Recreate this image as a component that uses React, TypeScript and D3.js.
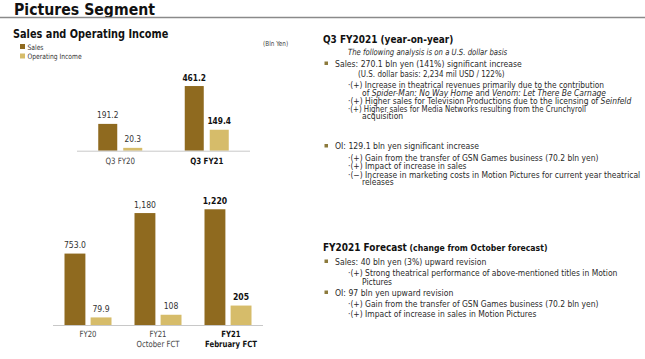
import React, { useLayoutEffect, useRef, useState } from "react";
import * as d3 from "d3";

// ---- Data ----
const quarterCats = ["Q3 FY20", "Q3 FY21"];
const quarterSales = [191.2, 461.2];
const quarterOI = [20.3, 149.4];
const quarterSalesLabels = ["191.2", "461.2"];
const quarterOILabels = ["20.3", "149.4"];

const yearCats = ["FY20", "FY21 October FCT", "FY21 February FCT"];
const yearCatLines = [["FY20"], ["FY21", "October FCT"], ["FY21", "February FCT"]];
const yearSales = [753.0, 1180, 1220];
const yearOI = [79.9, 108, 205];
const yearSalesLabels = ["753.0", "1,180", "1,220"];
const yearOILabels = ["79.9", "108", "205"];

const seriesNames = ["Sales", "Operating Income"];

const SALES_COLOR = "#8f6a1f";
const OI_COLOR = "#d6bc6a";
const FONT = "'DejaVu Sans', Verdana, sans-serif";

type Seg = { t: string; i?: boolean; fs?: number };
type Line = { x: number; y: number; fs: number; segs: Seg[]; bold?: boolean; bullet?: boolean; fill?: string; sub?: boolean; w?: number };

const rightLines: Line[] = [
  { x: 323, y: 43, fs: 11, bold: true, fill: "#111", segs: [{ t: "Q3 FY2021 (year-on-year)" }] },
  { x: 348, y: 54.5, fs: 8.5, segs: [{ t: "The following analysis is on a U.S. dollar basis", i: true }] },
  { x: 335, y: 66.5, fs: 9.5, bullet: true, segs: [{ t: "Sales: 270.1 bln yen (141%) significant increase" }] },
  { x: 358, y: 76.5, fs: 8.8, segs: [{ t: "(U.S. dollar basis: 2,234 mil USD / 122%)" }] },
  { x: 348, y: 88, fs: 8.5, sub: true, w: 256, segs: [{ t: "·(+) Increase in theatrical revenues primarily due to the contribution" }] },
  { x: 362, y: 95.5, fs: 8.5, sub: true, w: 244, segs: [{ t: "of " }, { t: "Spider-Man: No Way Home", i: true }, { t: " and " }, { t: "Venom: Let There Be Carnage", i: true }] },
  { x: 348, y: 103.5, fs: 8.5, sub: true, segs: [{ t: "·(+) Higher sales for Television Productions due to the licensing of " }, { t: "Seinfeld", i: true }] },
  { x: 348, y: 111.5, fs: 8.5, sub: true, w: 238, segs: [{ t: "·(+) Higher sales for Media Networks resulting from the Crunchyroll" }] },
  { x: 362, y: 119, fs: 8.5, sub: true, segs: [{ t: "acquisition" }] },
  { x: 335, y: 149, fs: 9.5, bullet: true, segs: [{ t: "OI: 129.1 bln yen significant increase" }] },
  { x: 348, y: 160.5, fs: 8.5, sub: true, segs: [{ t: "·(+) Gain from the transfer of GSN Games business (70.2 bln yen)" }] },
  { x: 348, y: 169, fs: 8.5, sub: true, segs: [{ t: "·(+) Impact of increase in sales" }] },
  { x: 348, y: 177.5, fs: 8.5, sub: true, segs: [{ t: "·(−) Increase in marketing costs in Motion Pictures for current year theatrical" }] },
  { x: 362, y: 185, fs: 8.5, sub: true, segs: [{ t: "releases" }] },
  { x: 323, y: 251, fs: 11, bold: true, fill: "#111", segs: [{ t: "FY2021 Forecast" }, { t: " (change from October forecast)", fs: 9.5 }] },
  { x: 335, y: 264.5, fs: 9.5, bullet: true, segs: [{ t: "Sales: 40 bln yen (3%) upward revision" }] },
  { x: 348, y: 275.5, fs: 8.5, sub: true, segs: [{ t: "·(+) Strong theatrical performance of above-mentioned titles in Motion" }] },
  { x: 362, y: 285, fs: 8.5, sub: true, segs: [{ t: "Pictures" }] },
  { x: 335, y: 295.5, fs: 9.5, bullet: true, segs: [{ t: "OI: 97 bln yen upward revision" }] },
  { x: 348, y: 307, fs: 8.5, sub: true, segs: [{ t: "·(+) Gain from the transfer of GSN Games business (70.2 bln yen)" }] },
  { x: 348, y: 316.5, fs: 8.5, sub: true, segs: [{ t: "·(+) Impact of increase in sales in Motion Pictures" }] },
];

function T(props: { x: number; y: number; sx: number; children: React.ReactNode; [k: string]: any }) {
  const { x, y, sx, children, ...rest } = props;
  return (
    <text transform={`translate(${x},${y}) scale(${sx},1)`} {...rest}>
      {children}
    </text>
  );
}

function BarGroup(props: {
  sx: number;
  cats: string[];
  catLines: string[][];
  sales: number[];
  oi: number[];
  salesLabels: string[];
  oiLabels: string[];
  x0: number;
  x1: number;
  baseY: number;
  yMax: number;
  yTop: number;
  groupHalf: number;
  innerPad: number;
  boldIndex: number;
  valueFs: number;
  catFs: number;
  catY: number;
}) {
  const { sx, cats, catLines, sales, oi, salesLabels, oiLabels, x0, x1, baseY, yMax, yTop, groupHalf, innerPad, boldIndex, valueFs, catFs, catY } = props;
  const x = d3.scaleBand<string>().domain(cats).range([x0, x1]);
  const y = d3.scaleLinear().domain([0, yMax]).range([baseY, yTop]);
  return (
    <g>
      {cats.map((c, i) => {
        const cx = (x(c) as number) + x.bandwidth() / 2;
        const inner = d3.scaleBand<string>().domain(seriesNames).range([cx - groupHalf, cx + groupHalf]).paddingInner(innerPad);
        const vals = [sales[i], oi[i]];
        const labs = [salesLabels[i], oiLabels[i]];
        const bold = i === boldIndex;
        return (
          <g key={c}>
            {seriesNames.map((s, j) => {
              const bx = inner(s) as number;
              const top = y(vals[j]);
              return (
                <g key={s}>
                  <rect x={bx} y={top} width={inner.bandwidth()} height={baseY - top} fill={j === 0 ? SALES_COLOR : OI_COLOR} />
                  <T sx={sx} x={bx + inner.bandwidth() / 2} y={top - 5.5} textAnchor="middle" fontSize={valueFs} fontWeight={bold ? "bold" : "normal"} fill={bold ? "#111" : "#333"}>
                    {labs[j]}
                  </T>
                </g>
              );
            })}
            {catLines[i].map((l, k) => (
              <T sx={sx} key={k} x={cx + (bold && cats.length > 2 ? 3 : 0)} y={catY + k * 10} textAnchor="middle" fontSize={catFs} fontWeight={bold ? "bold" : "normal"} fill={bold ? "#111" : "#444"}>
                {l}
              </T>
            ))}
          </g>
        );
      })}
      <line x1={x0} x2={x1} y1={baseY + 0.5} y2={baseY + 0.5} stroke="#c8c8c8" strokeWidth={1} />
    </g>
  );
}

export default function App() {
  const [sx, setSx] = useState(0.97);
  const [sxSub, setSxSub] = useState(1.07);
  const measureRef = useRef<SVGTextElement>(null);
  const measureSubRef = useRef<SVGTextElement>(null);
  useLayoutEffect(() => {
    if (measureRef.current) {
      const w = measureRef.current.getComputedTextLength();
      if (w > 0) setSx(187 / w);
    }
    if (measureSubRef.current) {
      const w = measureSubRef.current.getComputedTextLength();
      if (w > 0) setSxSub(251 / w);
    }
  }, []);
  return (
    <svg width={645} height={359} style={{ position: "fixed", left: 0, top: 0, background: "#fff" }} fontFamily={FONT}>
      <rect width={645} height={359} fill="#fff" />
      <text ref={measureRef} x={0} y={-20} fontSize={9.5} visibility="hidden">Sales: 270.1 bln yen (141%) significant increase</text>
      <text ref={measureSubRef} x={0} y={-40} fontSize={8.5} visibility="hidden">·(+) Gain from the transfer of GSN Games business (70.2 bln yen)</text>
      {/* Header */}
      <text x={14} y={15} fontSize={16.5} fontWeight="bold" fill="#111" textLength={141} lengthAdjust="spacingAndGlyphs">Pictures Segment</text>
      <line x1={0} x2={645} y1={17.5} y2={17.5} stroke="#8a8a8a" strokeWidth={1.5} />
      <T sx={sx} x={13} y={37.5} fontSize={12} fontWeight="bold" fill="#111">Sales and Operating Income</T>
      <T sx={sx} x={263} y={45.5} fontSize={7} fill="#444">(Bln Yen)</T>
      {/* Legend */}
      {seriesNames.map((s, i) => (
        <g key={s}>
          <rect x={20} y={44 + i * 9.5} width={5} height={5} fill={i === 0 ? SALES_COLOR : OI_COLOR} />
          <T sx={sx} x={27.5} y={49.5 + i * 9.5} fontSize={7.4} fill="#333">{s}</T>
        </g>
      ))}
      {/* Top chart */}
      <BarGroup
        sx={sx}
        cats={quarterCats}
        catLines={quarterCats.map((c) => [c])}
        sales={quarterSales}
        oi={quarterOI}
        salesLabels={quarterSalesLabels}
        oiLabels={quarterOILabels}
        x0={77}
        x1={250}
        baseY={150.7}
        yMax={500}
        yTop={150.7 - 70.1}
        groupHalf={22}
        innerPad={0.24}
        boldIndex={1}
        valueFs={9.2}
        catFs={8.7}
        catY={163.5}
      />
      {/* Bottom chart */}
      <BarGroup
        sx={sx}
        cats={yearCats}
        catLines={yearCatLines}
        sales={yearSales}
        oi={yearOI}
        salesLabels={yearSalesLabels}
        oiLabels={yearOILabels}
        x0={53}
        x1={263}
        baseY={325}
        yMax={1400}
        yTop={325 - 132.8}
        groupHalf={23.5}
        innerPad={0.2}
        boldIndex={2}
        valueFs={9.5}
        catFs={8.5}
        catY={336.5}
      />
      {/* Right text */}
      {rightLines.map((l, i) => {
        const content = l.segs.map((s, k) => (
          <tspan key={k} fontStyle={s.i ? "italic" : "normal"} fontSize={s.fs || l.fs}>{s.t}</tspan>
        ));
        const common = { fontSize: l.fs, fontWeight: l.bold ? "bold" : "normal", fill: l.fill || "#2a2a2a" };
        return (
          <g key={i}>
            {l.bullet && <rect x={324.5} y={l.y - 5} width={3.5} height={3.5} fill="#8c7a3c" />}
            {l.w ? (
              <text x={l.x} y={l.y} {...common} textLength={l.w} lengthAdjust="spacingAndGlyphs">{content}</text>
            ) : (
              <T sx={l.sub ? sxSub : sx} x={l.x} y={l.y} {...common}>{content}</T>
            )}
          </g>
        );
      })}
    </svg>
  );
}
